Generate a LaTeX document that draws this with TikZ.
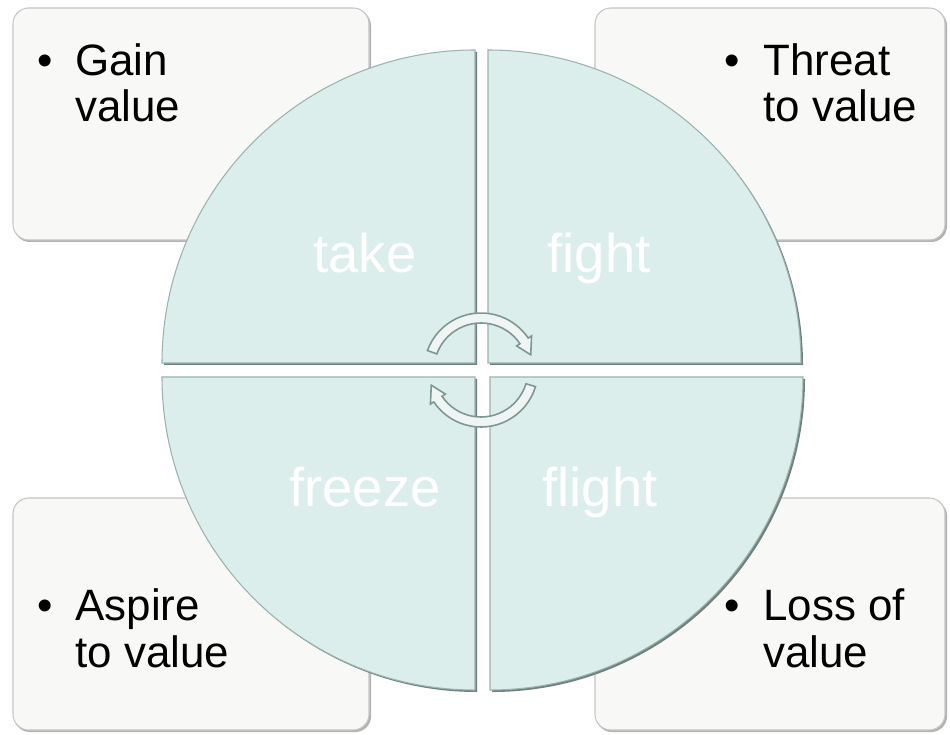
\documentclass[tikz,border=0pt]{standalone}
\usepackage{fontspec}
\setmainfont{Liberation Sans}
\usetikzlibrary{calc}
\definecolor{qfill}{HTML}{DCEEEC}
\definecolor{qline}{HTML}{9AB3AF}
\definecolor{qshadow}{HTML}{6F817E}
\definecolor{boxfill}{HTML}{F8F8F7}
\definecolor{boxline}{HTML}{C4C6C4}
\definecolor{arcline}{HTML}{7E9793}
\definecolor{arcfill}{HTML}{EEF5F3}
\newlength\pxu
\setlength\pxu{0.02cm}
\begin{document}
\begin{tikzpicture}[x=0.02cm,y=0.02cm,
  infobox/.style={rounded corners=9pt, fill=boxfill, draw=boxline, line width=0.6pt},
  boxshadow/.style={rounded corners=9pt, fill=black!30},
  quad/.style={fill=qfill, draw=qline, line width=0.6pt},
  quadshadow/.style={fill=qshadow},
  qlabel/.style={text=white, font=\fontsize{31}{36}\selectfont, anchor=base, inner sep=0pt},
  infotext/.style={font=\fontsize{25}{26.7}\selectfont, align=left, anchor=base west, inner sep=0pt, text=black},
  cyc/.style={fill=arcfill, draw=arcline, line width=0.9pt}]
\useasboundingbox (0,0) rectangle (950,734);
\fill[white] (0,0) rectangle (950,734);

% corner boxes
\fill[boxshadow] (14,492) rectangle (371,724);
\draw[infobox] (13,494) rectangle (369,726);
\fill[boxshadow] (596,492) rectangle (947,724);
\draw[infobox] (595,494) rectangle (945,726);
\fill[boxshadow] (14,2) rectangle (371,234);
\draw[infobox] (13,4) rectangle (369,236);
\fill[boxshadow] (596,2) rectangle (947,234);
\draw[infobox] (595,4) rectangle (945,236);

% quadrants
\fill[quadshadow] (477,369) -- ++(-313,0) arc[start angle=180,end angle=90,radius=313] -- cycle;
\draw[quad] (475,371) -- ++(-313,0) arc[start angle=180,end angle=90,radius=313] -- cycle;
\fill[quadshadow] (490,369) -- ++(0,313) arc[start angle=90,end angle=0,radius=313] -- cycle;
\draw[quad] (488,371) -- ++(0,313) arc[start angle=90,end angle=0,radius=313] -- cycle;
\fill[quadshadow] (477,355) -- ++(0,-313) arc[start angle=270,end angle=180,radius=313] -- cycle;
\draw[quad] (475,357) -- ++(0,-313) arc[start angle=270,end angle=180,radius=313] -- cycle;
\fill[quadshadow] (492,355) -- ++(313,0) arc[start angle=0,end angle=-90,radius=313] -- cycle;
\draw[quad] (490,357) -- ++(313,0) arc[start angle=0,end angle=-90,radius=313] -- cycle;

% quadrant labels
\node[qlabel] (take) at (365,461) {take};
\node[qlabel] (fight) at (599,461) {fight};
\node[qlabel] (freeze) at (365,227) {freeze};
\node[qlabel] (flight) at (600,227) {flight};

% cycle arrows
\begin{scope}[shift={(481,364)}]
\draw[cyc] (160:57) arc[start angle=160,end angle=34,radius=57] -- (34:61) -- (17:52) -- (34:43) -- (34:47) arc[start angle=34,end angle=160,radius=47] -- cycle;
\draw[cyc] (-17:57) arc[start angle=-17,end angle=-146,radius=57] -- (-146:61) -- (-163:52) -- (-146:43) -- (-146:47) arc[start angle=-146,end angle=-17,radius=47] -- cycle;
\end{scope}

% box texts (anchor = baseline of last line)
\node[infotext] (gain) at (37,612) {\makebox[38\pxu][l]{•}Gain\\\hspace*{38\pxu}value};
\node[infotext] (threat) at (724,612) {\makebox[39\pxu][l]{•}Threat\\\hspace*{39\pxu}to value};
\node[infotext] (aspire) at (37,67) {\makebox[38\pxu][l]{•}Aspire\\\hspace*{38\pxu}to value};
\node[infotext] (loss) at (724,67) {\makebox[39\pxu][l]{•}Loss of\\\hspace*{39\pxu}value};
\end{tikzpicture}
\end{document}
